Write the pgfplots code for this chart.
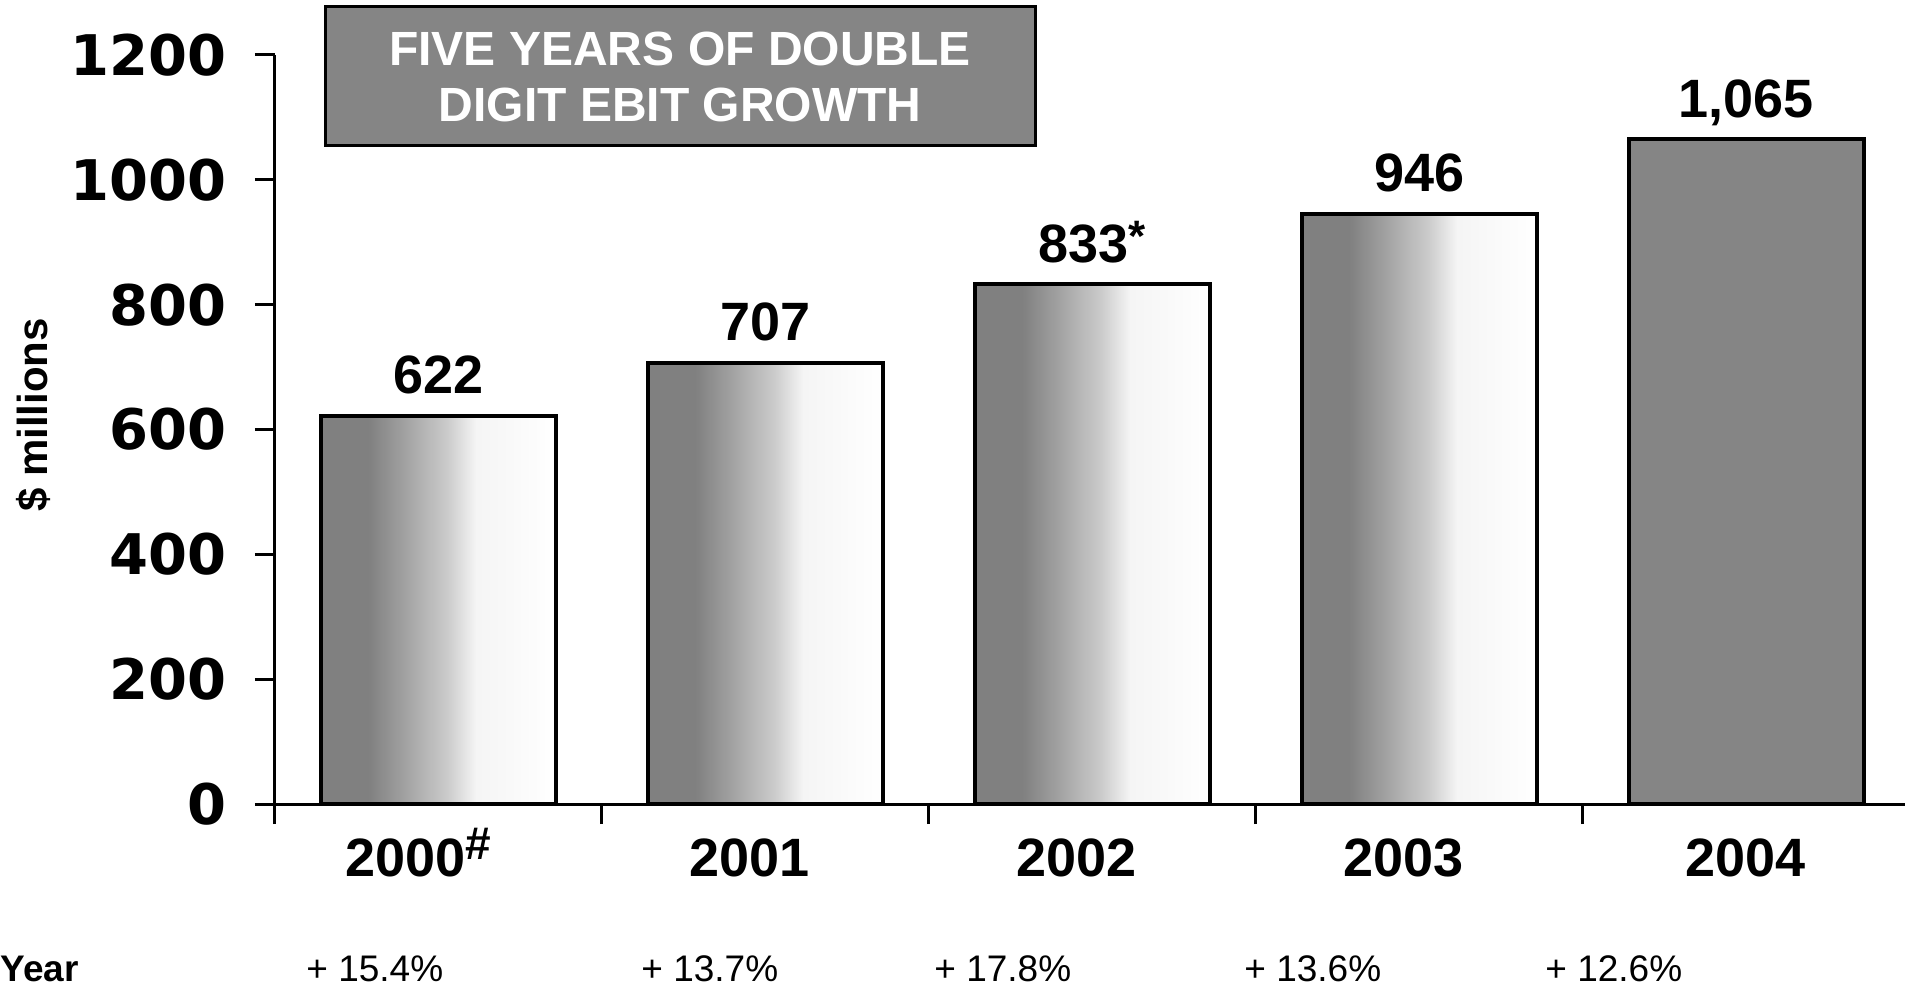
\documentclass[border=0pt]{standalone}
\usepackage{fontspec}
\setmainfont{Liberation Sans}
\newfontfamily\dejavu{DejaVu Sans}
\usepackage{pgfplots}
\pgfplotsset{compat=1.18}
\definecolor{bargray}{gray}{0.52}
\pgfdeclarehorizontalshading{barshade}{100bp}{rgb(0bp)=(0.5,0.5,0.5); rgb(35bp)=(0.5,0.5,0.5); rgb(42bp)=(0.62,0.62,0.62); rgb(52bp)=(0.8,0.8,0.8); rgb(58bp)=(0.96,0.96,0.96); rgb(75bp)=(1,1,1); rgb(100bp)=(1,1,1)}
\pgfplotsset{shadedbar/.style={ybar, bar width=0.72, bar shift=0pt, draw=black, line width=2pt, shade, shading=barshade}}
\begin{document}
\begin{tikzpicture}
\useasboundingbox (0,0) rectangle (953.5pt,493.5pt);
\begin{axis}[
  at={(137.5pt,91.5pt)}, anchor=south west,
  scale only axis, width=815pt, height=374.5pt,
  xmin=-0.5, xmax=4.485, ymin=0, ymax=1200,
  axis lines*=left,
  axis line style={line width=1.5pt},
  tick style={line width=1.5pt, black},
  tick align=outside, major tick length=10pt,
  xtick={-0.5,0.5,1.5,2.5,3.5}, xticklabels={},
  extra x ticks={0,1,2,3,4},
  extra x tick labels={2000\raisebox{0.3em}{\fontsize{23}{23}\selectfont\#}\hspace*{4pt},2001,2002,2003,\hspace*{15pt}2004},
  extra x tick style={tick style={draw=none}},
  xticklabel style={font=\fontsize{27}{27}\selectfont\bfseries, anchor=base, yshift=-26pt, xshift=-8pt},
  ytick={0,200,...,1200}, yticklabels={0,200,400,600,800,1000,1200},
  yticklabel style={font=\dejavu\bfseries\fontsize{28}{28}\selectfont, anchor=east, inner sep=0pt, xshift=-14pt},
  clip=false,
]
\addplot[shadedbar] coordinates {(0,622)};
\addplot[shadedbar] coordinates {(1,707)};
\addplot[shadedbar] coordinates {(2,833)};
\addplot[shadedbar] coordinates {(3,946)};
\addplot[ybar, bar width=0.72, bar shift=0pt, draw=black, line width=2pt, fill=bargray]
  coordinates {(4,1065)};
\addplot[draw=none, point meta=explicit symbolic, nodes near coords,
  every node near coord/.append style={font=\fontsize{27}{27}\selectfont\bfseries, anchor=base, yshift=11pt, text=black}]
  coordinates {(0,622)[622] (1,707)[707] (2,833)[833\raisebox{0.2em}{\fontsize{22}{22}\selectfont*}] (3,946)[946] (4,1065)[1,065]};
\end{axis}
\node[draw=black, line width=1.5pt, fill=bargray, minimum width=355pt, minimum height=69.5pt, text=white, font=\fontsize{24}{28}\selectfont\bfseries, align=center] at (340pt,455.25pt) {FIVE YEARS OF DOUBLE\\DIGIT EBIT GROWTH};
\node[rotate=90, anchor=base, font=\fontsize{21}{21}\selectfont\bfseries] at (24pt,286pt) {\$ millions};
\node[anchor=base west, inner sep=0pt, font=\fontsize{18.5}{18.5}\selectfont\bfseries] at (0pt,3pt) {Year};
\node[anchor=base west, inner sep=0pt, font=\fontsize{18.5}{18.5}\selectfont] at (153pt,3pt) {+ 15.4\%};
\node[anchor=base west, inner sep=0pt, font=\fontsize{18.5}{18.5}\selectfont] at (320.5pt,3pt) {+ 13.7\%};
\node[anchor=base west, inner sep=0pt, font=\fontsize{18.5}{18.5}\selectfont] at (467pt,3pt) {+ 17.8\%};
\node[anchor=base west, inner sep=0pt, font=\fontsize{18.5}{18.5}\selectfont] at (622pt,3pt) {+ 13.6\%};
\node[anchor=base west, inner sep=0pt, font=\fontsize{18.5}{18.5}\selectfont] at (772.5pt,3pt) {+ 12.6\%};
\end{tikzpicture}
\end{document}
